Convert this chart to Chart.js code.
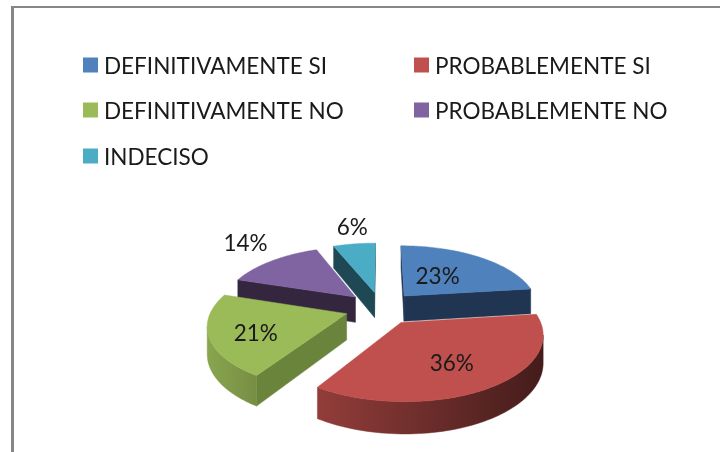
<!DOCTYPE html>
<html><head><meta charset="utf-8">
<style>
html,body{margin:0;padding:0;background:#fff;overflow:hidden}
#wrap{position:relative;width:720px;height:452px}
canvas{display:block;filter:blur(0.5px)}
#frame{position:absolute;left:10.5px;top:6px;width:800px;height:600px;border:solid #868686;border-width:2.5px 0 0 3px;box-sizing:border-box}
</style>
<script src="https://cdn.jsdelivr.net/npm/chart.js@4"></script>
</head><body>
<div id="wrap"><canvas id="c" width="720" height="452"></canvas><div id="frame"></div></div>
<script>
const categories = ['DEFINITIVAMENTE SI','PROBABLEMENTE SI','DEFINITIVAMENTE NO','PROBABLEMENTE NO','INDECISO'];
const values = [23,36,21,14,6];
const valueLabels = ['23%','36%','21%','14%','6%'];
const colors = ['#4f81bd','#c0504d','#9bbb59','#8064a2','#4bacc6'];
const cutColors = ['#1f3552','#5a2423','#6a843c','#35263f','#1f4855'];

// Style / camera settings
const FONT = '22.5px Lato';
const TEXT = '#1a1a1a';
const TEXT_DY = 2;
const CAM = {sx:1.06, sy:0.485, k:0.158, h:0.205};
const LABEL_POS = [[0.42,0,-4],[0.6,0,3],[0.7,4,2],[1.3,-4,-10],[1.3,3,-6]];
const LEGEND_COLS = [83,414], LEGEND_ROWS = [65,110,156], LEGEND_BOX = 15, LEGEND_GAP = 6;

function shade(hex,f){
  const n=parseInt(hex.slice(1),16);
  return `rgb(${(n>>16&255)*f|0},${(n>>8&255)*f|0},${(n&255)*f|0})`;
}
const wallShade = u => 0.62-0.27*u;
const pie3d = {
  id:'pie3d',
  beforeDatasetDraw(){ return false; },
  afterDatasetsDraw(chart){
    const ctx = chart.ctx, arcs = chart.getDatasetMeta(0).data;
    const items = arcs.map((arc,i)=>{
      const p = arc.getProps(['x','y','startAngle','endAngle','outerRadius'],true);
      return {i,p,mid:(p.startAngle+p.endAngle)/2,off:arc.options.offset};
    });
    const project = (it,ang,r,drop)=>{
      const R = it.p.outerRadius, e = it.off/R;
      const u = r*Math.cos(ang)+e*Math.cos(it.mid);
      const d = -(r*Math.sin(ang)+e*Math.sin(it.mid));
      const w = 1+CAM.k*d;
      return {x:it.p.x+R*CAM.sx*u/w, y:it.p.y+R*(-CAM.sy*d+(drop?CAM.h:0))/w};
    };
    const poly=(pts,fill)=>{
      ctx.fillStyle=fill;ctx.strokeStyle=fill;ctx.lineWidth=0.5;
      ctx.beginPath();pts.forEach((q,j)=>j?ctx.lineTo(q.x,q.y):ctx.moveTo(q.x,q.y));ctx.closePath();ctx.fill();ctx.stroke();
    };
    const order = items.slice().sort((a,b)=>Math.sin(a.mid)-Math.sin(b.mid));
    order.forEach(it=>{
      const {i,p}=it, n=80, step=(p.endAngle-p.startAngle)/n;
      const top=[],bot=[];
      for(let s=0;s<=n;s++){const a=p.startAngle+s*step;top.push(project(it,a,1,false));bot.push(project(it,a,1,true));}
      const at=project(it,it.mid,0,false), ab=project(it,it.mid,0,true);
      if(top[0].x<at.x) poly([at,top[0],bot[0],ab],cutColors[i]);
      if(at.x<top[n].x) poly([top[n],at,ab,bot[n]],cutColors[i]);
      let a0=-1,a1=-1;
      for(let s=0;s<n;s++){ if(top[s+1].x<top[s].x){ if(a0<0)a0=s; a1=s+1; } }
      if(a0>=0){
        const g=ctx.createLinearGradient(top[a0].x,0,top[a1].x,0);
        g.addColorStop(0,shade(colors[i],wallShade(Math.cos(p.startAngle+a0*step))));
        g.addColorStop(1,shade(colors[i],wallShade(Math.cos(p.startAngle+a1*step))));
        poly(top.slice(a0,a1+1).concat(bot.slice(a0,a1+1).reverse()),g);
      }
      poly([at].concat(top),colors[i]);
    });
    ctx.font=FONT;ctx.fillStyle=TEXT;ctx.textAlign='center';ctx.textBaseline='middle';
    items.forEach(it=>{
      const [r,nx,ny]=LABEL_POS[it.i], q=project(it,it.mid,r,false);
      ctx.fillText(valueLabels[it.i],q.x+nx,q.y+ny+TEXT_DY);
    });
    ctx.textAlign='left';
    categories.forEach((t,i)=>{
      const x=LEGEND_COLS[i%2], y=LEGEND_ROWS[i>>1];
      ctx.fillStyle=colors[i];ctx.fillRect(x,y-LEGEND_BOX/2,LEGEND_BOX,LEGEND_BOX);
      ctx.fillStyle=TEXT;ctx.fillText(t,x+LEGEND_BOX+LEGEND_GAP,y+TEXT_DY);
    });
  }
};
new Chart(document.getElementById('c'),{
  type:'pie',
  data:{labels:categories,datasets:[{data:values,backgroundColor:colors,borderWidth:0,offset:34}]},
  options:{
    responsive:false,animation:false,
    layout:{padding:{left:237,right:195,top:164,bottom:0}},
    plugins:{legend:{display:false},tooltip:{enabled:false}}
  },
  plugins:[pie3d]
});
</script>
</body></html>
